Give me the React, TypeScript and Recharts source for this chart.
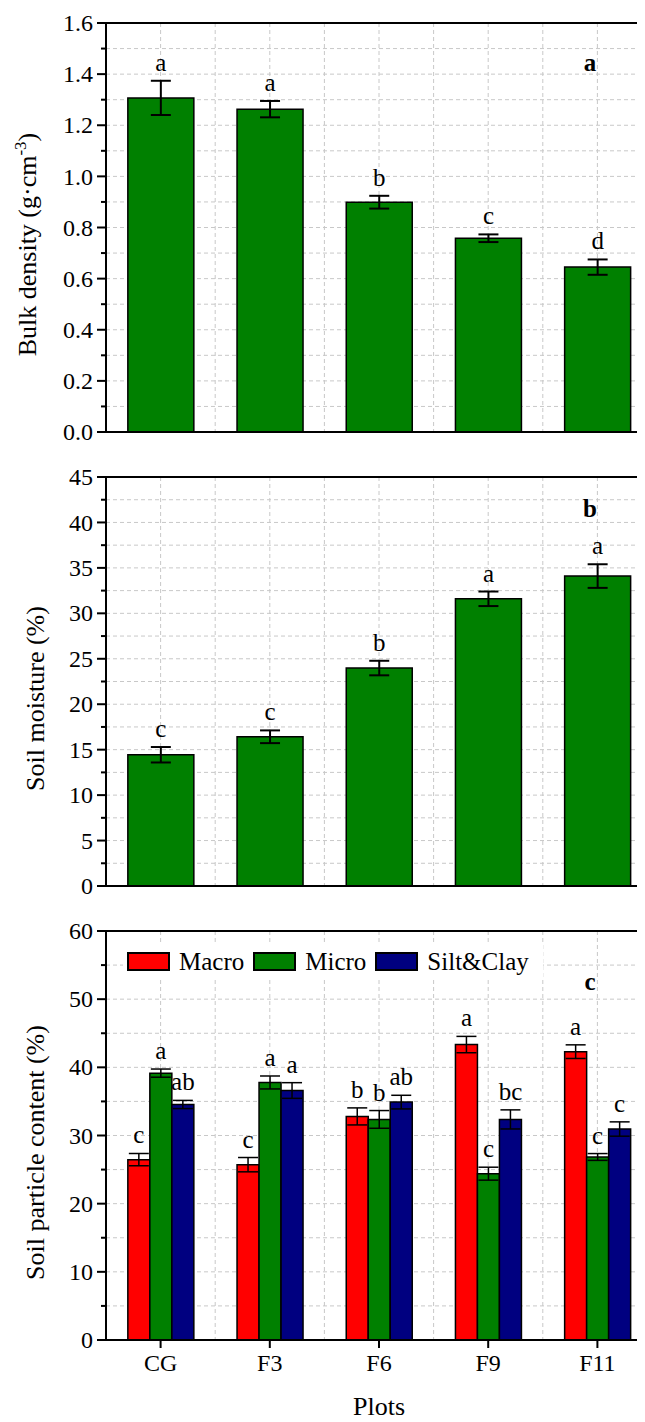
import React from "react";
import {
  BarChart,
  Bar,
  XAxis,
  YAxis,
  CartesianGrid,
  ErrorBar,
  LabelList,
  Legend,
  ReferenceLine,
} from "recharts";

const plots = ["CG", "F3", "F6", "F9", "F11"];

const bulkDensity = [1.307, 1.263, 0.899, 0.758, 0.645];
const bulkDensityErr = [0.067, 0.032, 0.025, 0.015, 0.03];
const bulkDensityLetters = ["a", "a", "b", "c", "d"];
const bulkTicks = [0, 0.1, 0.2, 0.3, 0.4, 0.5, 0.6, 0.7, 0.8, 0.9, 1.0, 1.1, 1.2, 1.3, 1.4, 1.5, 1.6];

const moisture = [14.44, 16.42, 23.98, 31.6, 34.1];
const moistureErr = [0.85, 0.7, 0.8, 0.8, 1.3];
const moistureLetters = ["c", "c", "b", "a", "a"];
const moistureTicks = [0, 2.5, 5, 7.5, 10, 12.5, 15, 17.5, 20, 22.5, 25, 27.5, 30, 32.5, 35, 37.5, 40, 42.5, 45];

const macro = [26.46, 25.72, 32.8, 43.34, 42.3];
const macroErr = [0.9, 1.05, 1.25, 1.2, 1.0];
const macroLetters = ["c", "c", "b", "a", "a"];
const micro = [39.15, 37.78, 32.36, 24.4, 26.85];
const microErr = [0.6, 0.95, 1.3, 0.95, 0.5];
const microLetters = ["a", "a", "b", "c", "c"];
const siltClay = [34.55, 36.6, 34.9, 32.36, 30.95];
const siltClayErr = [0.6, 1.15, 1.0, 1.4, 1.05];
const siltClayLetters = ["ab", "a", "ab", "bc", "c"];
const particleTicks = [0, 5, 10, 15, 20, 25, 30, 35, 40, 45, 50, 55, 60];

const seriesNames = ["Macro", "Micro", "Silt&Clay"];
const seriesColors = ["#ff0000", "#008000", "#000080"];

const FONT = "'Liberation Serif', 'Times New Roman', serif";
const GREEN = "#008000";

const CHART_W = 660;
const MARGIN = { top: 15, right: 16, left: 0, bottom: 0 };
const AXIS_W = 98;

// vertical grid at every category centre and every band edge
const gridX = ({ offset }: any) =>
  Array.from({ length: 11 }, (_, i) => offset.left + (offset.width * i) / 10);

function makeYTick(ticks: number[], fmt: (v: number) => string) {
  return (props: any) => {
    const { x, y, payload } = props;
    const major = ticks.indexOf(payload.value) % 2 === 0;
    return (
      <g>
        <line x1={x - (major ? 9 : 5)} x2={x} y1={y} y2={y} stroke="#000" strokeWidth={2} />
        {major && (
          <text x={x - 13} y={y} dy="0.34em" textAnchor="end" fontSize={24} fontFamily={FONT} fill="#000">
            {fmt(payload.value)}
          </text>
        )}
      </g>
    );
  };
}

function letterLabel(letters: string[], values: number[], errs: number[]) {
  return (props: any) => {
    const vb = props.viewBox ?? props;
    const { x, y, width, height } = vb;
    const i = props.index;
    const top = y - (height / values[i]) * errs[i];
    return (
      <text x={x + width / 2} y={top - 10} textAnchor="middle" fontSize={25} fontFamily={FONT} fill="#000">
        {letters[i]}
      </text>
    );
  };
}

function yLabel(lines: React.ReactNode, baseX: number) {
  return (props: any) => {
    const vb = props.viewBox;
    const cx = vb.x + baseX;
    const cy = vb.y + vb.height / 2 + 17;
    return (
      <text
        x={cx}
        y={cy}
        transform={`rotate(-90 ${cx} ${cy})`}
        textAnchor="middle"
        fontSize={26}
        fontFamily={FONT}
        fill="#000"
      >
        {lines}
      </text>
    );
  };
}

function panelTag(tag: string, y: number) {
  return (
    <text x={582} y={y} textAnchor="middle" fontSize={25} fontWeight="bold" fontFamily={FONT} fill="#000">
      {tag}
    </text>
  );
}

interface SingleProps {
  values: number[];
  errs: number[];
  letters: string[];
  ticks: number[];
  fmt: (v: number) => string;
  label: React.ReactNode;
  labelX: number;
  tag: string;
  tagY: number;
}

function SinglePanel({ values, errs, letters, ticks, fmt, label, labelX, tag, tagY }: SingleProps) {
  const data = plots.map((p, i) => ({ plot: p, value: values[i], err: errs[i] }));
  const max = ticks[ticks.length - 1];
  return (
    <BarChart width={CHART_W} height={454} data={data} margin={MARGIN} barCategoryGap="20%">
      <CartesianGrid stroke="#c8c8c8" strokeDasharray="4 3" verticalCoordinatesGenerator={gridX} />
      <XAxis
        dataKey="plot"
        height={30}
        interval={0}
        tick={false}
        tickSize={8}
        tickLine={{ stroke: "#000", strokeWidth: 2 }}
        axisLine={{ stroke: "#000", strokeWidth: 2 }}
      />
      <YAxis
        width={AXIS_W}
        domain={[0, max]}
        ticks={ticks}
        interval={0}
        tickSize={0}
        tickMargin={0}
        tickLine={false}
        tick={makeYTick(ticks, fmt)}
        axisLine={{ stroke: "#000", strokeWidth: 2 }}
        label={{ content: yLabel(label, labelX) }}
      />
      <ReferenceLine y={max} stroke="#000" strokeWidth={2} />
      <Bar dataKey="value" fill={GREEN} stroke="#000" strokeWidth={1.5} isAnimationActive={false}>
        <ErrorBar dataKey="err" width={10} stroke="#000" strokeWidth={2} isAnimationActive={false} />
        <LabelList dataKey="value" content={letterLabel(letters, values, errs)} />
      </Bar>
      {panelTag(tag, tagY)}
    </BarChart>
  );
}

function ParticleLegend() {
  return (
    <div
      style={{
        display: "flex",
        alignItems: "center",
        background: "#fff",
        height: 33,
        paddingLeft: 4,
        fontFamily: FONT,
        fontSize: 25,
        color: "#000",
      }}
    >
      {seriesNames.map((n, i) => (
        <React.Fragment key={n}>
          <span
            style={{
              display: "inline-block",
              width: 43,
              height: 19,
              background: seriesColors[i],
              border: "2px solid #000",
              boxSizing: "border-box",
            }}
          />
          <span style={{ marginLeft: 9, marginRight: 9, lineHeight: "33px" }}>{n}</span>
        </React.Fragment>
      ))}
    </div>
  );
}

function ParticlePanel() {
  const data = plots.map((p, i) => ({
    plot: p,
    macro: macro[i],
    macroErr: macroErr[i],
    micro: micro[i],
    microErr: microErr[i],
    silt: siltClay[i],
    siltErr: siltClayErr[i],
  }));
  const max = particleTicks[particleTicks.length - 1];
  const series = [
    { key: "macro", err: "macroErr", values: macro, errs: macroErr, letters: macroLetters },
    { key: "micro", err: "microErr", values: micro, errs: microErr, letters: microLetters },
    { key: "silt", err: "siltErr", values: siltClay, errs: siltClayErr, letters: siltClayLetters },
  ];
  return (
    <BarChart width={CHART_W} height={506} data={data} margin={MARGIN} barCategoryGap="20%" barGap={0}>
      <CartesianGrid stroke="#c8c8c8" strokeDasharray="4 3" verticalCoordinatesGenerator={gridX} />
      <XAxis
        dataKey="plot"
        height={82}
        interval={0}
        tickSize={8}
        tickMargin={6}
        tick={{ fontSize: 24, fontFamily: FONT, fill: "#000" }}
        tickLine={{ stroke: "#000", strokeWidth: 2 }}
        axisLine={{ stroke: "#000", strokeWidth: 2 }}
        label={{ value: "Plots", position: "insideBottom", offset: 7, fontSize: 26, fontFamily: FONT, fill: "#000" }}
      />
      <YAxis
        width={AXIS_W}
        domain={[0, max]}
        ticks={particleTicks}
        interval={0}
        tickSize={0}
        tickMargin={0}
        tickLine={false}
        tick={makeYTick(particleTicks, (v) => String(v))}
        axisLine={{ stroke: "#000", strokeWidth: 2 }}
        label={{ content: yLabel("Soil particle content (%)", 36) }}
      />
      <ReferenceLine y={max} stroke="#000" strokeWidth={2} />
      <Legend
        layout="vertical"
        verticalAlign="middle"
        align="center"
        wrapperStyle={{ top: 29, left: 115, width: 420 }}
        content={() => <ParticleLegend />}
      />
      {series.map((s, i) => (
        <Bar
          key={s.key}
          dataKey={s.key}
          name={seriesNames[i]}
          fill={seriesColors[i]}
          stroke="#000"
          strokeWidth={1.5}
          isAnimationActive={false}
        >
          <ErrorBar dataKey={s.err} width={10} stroke="#000" strokeWidth={1.5} isAnimationActive={false} />
          <LabelList dataKey={s.key} content={letterLabel(s.letters, s.values, s.errs)} />
        </Bar>
      ))}
      {panelTag("c", 74)}
    </BarChart>
  );
}

export default function App() {
  return (
    <div style={{ width: 637, height: 1414, overflow: "hidden", position: "relative", background: "#fff" }}>
      <SinglePanel
        values={bulkDensity}
        errs={bulkDensityErr}
        letters={bulkDensityLetters}
        ticks={bulkTicks}
        fmt={(v) => v.toFixed(1)}
        label={
          <>
            Bulk density (g·cm
            <tspan dy={-10} fontSize={17}>
              -3
            </tspan>
            <tspan dy={10}>)</tspan>
          </>
        }
        labelX={28}
        tag="a"
        tagY={63}
      />
      <SinglePanel
        values={moisture}
        errs={moistureErr}
        letters={moistureLetters}
        ticks={moistureTicks}
        fmt={(v) => String(v)}
        label="Soil moisture (%)"
        labelX={36}
        tag="b"
        tagY={55}
      />
      <ParticlePanel />
    </div>
  );
}
